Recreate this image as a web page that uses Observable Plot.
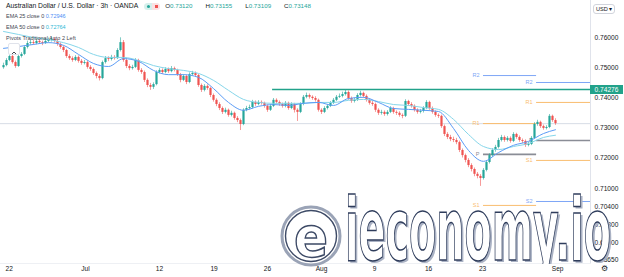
<!DOCTYPE html>
<html><head><meta charset="utf-8">
<script src="https://cdn.jsdelivr.net/npm/d3@7"></script>
<script src="https://cdn.jsdelivr.net/npm/@observablehq/plot@0.6"></script>
<style>
body{margin:0;background:#fff;font-family:"Liberation Sans",Arial,sans-serif;}
#wrap{position:relative;width:624px;height:277px;overflow:hidden;background:#fff;}
.lg{position:absolute;left:6px;white-space:nowrap;color:#131722;line-height:1;}
.l1{top:3px;font-size:6.8px;}
.l2{font-size:5.5px;color:#434651;}
.g{color:#26a69a}
.ohlc{font-size:6.2px;margin-right:13px;}
.pill{display:inline-block;vertical-align:middle;margin:0 5px 0 6px;height:7px;border-radius:4px;overflow:hidden;}
.pill span{display:inline-block;width:8px;height:7px;position:relative;}
.usd{position:absolute;left:593px;top:4px;font-size:5.6px;border:1px solid #d1d4dc;border-radius:3px;padding:1px 2px;color:#131722;}
.lvl{position:absolute;left:590px;width:33px;height:9px;background:#22a28a;color:#fff;font-size:6.6px;line-height:9px;text-align:center;}
.gear{position:absolute;left:601px;top:264px;font-size:8px;color:#131722;font-family:"DejaVu Sans";}
.caret{position:absolute;left:8px;top:43px;width:10px;height:10px;border:1px solid #e0e3eb;border-radius:2px;background:#fff;}
</style></head><body><div id="wrap"></div>
<script>
// ---- data ----
const firstOpen = 0.7500;
const closes = [
0.7507,0.7524,0.7537,0.7517,0.7504,0.7537,0.7544,0.7567,0.7580,0.7583,
0.7580,0.7587,0.7583,0.7580,0.7587,0.7590,0.7593,0.7587,0.7577,0.7567,
0.7557,0.7537,0.7530,0.7524,0.7534,0.7521,0.7514,0.7517,0.7501,0.7494,
0.7481,0.7471,0.7464,0.7517,0.7530,0.7527,0.7534,0.7530,0.7557,0.7583,
0.7524,0.7504,0.7497,0.7501,0.7524,0.7491,0.7484,0.7458,0.7441,0.7435,
0.7444,0.7484,0.7491,0.7484,0.7494,0.7487,0.7497,0.7491,0.7477,0.7458,
0.7471,0.7451,0.7477,0.7481,0.7474,0.7441,0.7425,0.7438,0.7431,0.7408,
0.7392,0.7378,0.7365,0.7352,0.7359,0.7342,0.7349,0.7332,0.7325,0.7312,
0.7359,0.7365,0.7368,0.7385,0.7378,0.7385,0.7382,0.7372,0.7359,0.7372,
0.7392,0.7385,0.7378,0.7372,0.7382,0.7365,0.7378,0.7359,0.7352,0.7378,
0.7402,0.7408,0.7402,0.7398,0.7392,0.7359,0.7352,0.7365,0.7372,0.7382,
0.7392,0.7402,0.7405,0.7411,0.7418,0.7398,0.7388,0.7392,0.7408,0.7415,
0.7405,0.7392,0.7382,0.7378,0.7359,0.7349,0.7352,0.7345,0.7352,0.7365,
0.7352,0.7349,0.7342,0.7339,0.7388,0.7378,0.7372,0.7359,0.7352,0.7355,
0.7365,0.7385,0.7365,0.7352,0.7342,0.7339,0.7305,0.7279,0.7269,0.7262,
0.7259,0.7252,0.7226,0.7209,0.7193,0.7176,0.7163,0.7147,0.7140,0.7133,
0.7160,0.7186,0.7209,0.7226,0.7236,0.7259,0.7269,0.7259,0.7266,0.7256,
0.7279,0.7269,0.7259,0.7256,0.7243,0.7246,0.7266,0.7312,0.7319,0.7305,
0.7299,0.7302,0.7339,0.7325,0.7315];
const highs = [
0.7515,0.7530,0.7545,0.7541,0.7522,0.7542,0.7550,0.7572,0.7588,0.7592,
0.7590,0.7594,0.7593,0.7588,0.7595,0.7598,0.7602,0.7600,0.7592,0.7582,
0.7572,0.7561,0.7543,0.7536,0.7540,0.7539,0.7527,0.7524,0.7522,0.7507,
0.7499,0.7486,0.7477,0.7522,0.7537,0.7536,0.7541,0.7540,0.7563,0.7599,
0.7590,0.7530,0.7510,0.7508,0.7530,0.7528,0.7497,0.7489,0.7463,0.7448,
0.7450,0.7490,0.7497,0.7496,0.7500,0.7499,0.7504,0.7502,0.7495,0.7481,
0.7477,0.7475,0.7483,0.7488,0.7486,0.7478,0.7446,0.7444,0.7443,0.7435,
0.7413,0.7397,0.7384,0.7370,0.7366,0.7363,0.7356,0.7353,0.7338,0.7330,
0.7364,0.7372,0.7376,0.7392,0.7390,0.7391,0.7390,0.7386,0.7377,0.7378,
0.7398,0.7397,0.7390,0.7383,0.7388,0.7386,0.7384,0.7382,0.7364,0.7384,
0.7408,0.7416,0.7413,0.7407,0.7404,0.7396,0.7364,0.7371,0.7378,0.7388,
0.7398,0.7408,0.7413,0.7419,0.7427,0.7423,0.7403,0.7399,0.7414,0.7422,
0.7419,0.7410,0.7397,0.7388,0.7383,0.7364,0.7359,0.7357,0.7358,0.7371,
0.7369,0.7357,0.7354,0.7347,0.7394,0.7392,0.7384,0.7377,0.7364,0.7362,
0.7371,0.7391,0.7389,0.7370,0.7357,0.7347,0.7343,0.7310,0.7285,0.7276,
0.7270,0.7266,0.7257,0.7231,0.7214,0.7199,0.7182,0.7168,0.7153,0.7146,
0.7166,0.7192,0.7215,0.7232,0.7243,0.7266,0.7276,0.7274,0.7272,0.7271,
0.7285,0.7283,0.7274,0.7264,0.7261,0.7253,0.7272,0.7318,0.7326,0.7323,
0.7310,0.7308,0.7345,0.7343,0.7331];
const lows = [
0.7495,0.7503,0.7520,0.7512,0.7498,0.7501,0.7532,0.7540,0.7562,0.7575,
0.7574,0.7576,0.7578,0.7573,0.7577,0.7582,0.7585,0.7582,0.7571,0.7561,
0.7550,0.7531,0.7524,0.7518,0.7520,0.7515,0.7508,0.7509,0.7495,0.7488,
0.7475,0.7463,0.7456,0.7460,0.7512,0.7520,0.7522,0.7525,0.7527,0.7552,
0.7518,0.7497,0.7490,0.7492,0.7497,0.7485,0.7478,0.7451,0.7434,0.7425,
0.7428,0.7440,0.7479,0.7478,0.7480,0.7481,0.7483,0.7486,0.7471,0.7450,
0.7454,0.7444,0.7447,0.7472,0.7468,0.7435,0.7418,0.7420,0.7425,0.7401,
0.7386,0.7371,0.7358,0.7345,0.7347,0.7336,0.7337,0.7326,0.7318,0.7292,
0.7308,0.7354,0.7360,0.7363,0.7372,0.7374,0.7376,0.7366,0.7352,0.7355,
0.7368,0.7379,0.7372,0.7366,0.7367,0.7359,0.7361,0.7350,0.7322,0.7348,
0.7374,0.7397,0.7396,0.7392,0.7386,0.7353,0.7345,0.7348,0.7360,0.7368,
0.7378,0.7388,0.7398,0.7400,0.7406,0.7392,0.7382,0.7383,0.7388,0.7403,
0.7399,0.7386,0.7376,0.7372,0.7352,0.7342,0.7343,0.7339,0.7340,0.7348,
0.7346,0.7342,0.7336,0.7331,0.7335,0.7372,0.7366,0.7353,0.7346,0.7347,
0.7350,0.7361,0.7359,0.7346,0.7336,0.7332,0.7299,0.7272,0.7262,0.7255,
0.7252,0.7245,0.7219,0.7201,0.7185,0.7169,0.7155,0.7139,0.7132,0.7107,
0.7128,0.7155,0.7181,0.7203,0.7220,0.7231,0.7254,0.7253,0.7254,0.7250,
0.7252,0.7263,0.7253,0.7249,0.7236,0.7238,0.7242,0.7262,0.7306,0.7299,
0.7293,0.7294,0.7298,0.7319,0.7309];
// EMA readings at these candle indices
const emaAt = [0,5,10,15,20,25,30,35,40,45,50,55,60,65,70,75,80,85,90,95,100,105,110,115,120,125,130,135,140,145,150,155,160,165,170,175,180,184];
const ema25 = [0.7564,0.7570,0.7577,0.7583,0.7574,0.7544,0.7514,0.7504,0.7530,0.7521,0.7491,0.7477,0.7477,0.7468,0.7431,0.7385,0.7359,0.7372,0.7378,0.7375,0.7382,0.7385,0.7375,0.7398,0.7402,0.7385,0.7365,0.7362,0.7359,0.7355,0.7299,0.7226,0.7190,0.7219,0.7243,0.7256,0.7282,0.72946];
const ema50 = [0.7620,0.7610,0.7600,0.7593,0.7583,0.7567,0.7544,0.7534,0.7534,0.7524,0.7507,0.7497,0.7491,0.7481,0.7458,0.7425,0.7395,0.7385,0.7382,0.7382,0.7382,0.7385,0.7385,0.7392,0.7395,0.7388,0.7378,0.7375,0.7368,0.7362,0.7329,0.7279,0.7239,0.7229,0.7239,0.7249,0.7269,0.72764];
// x-axis labels (candle index where each date falls)
const tickPos = [1.9, 27.3, 52, 70.2, 88, 106, 123.7, 141.7, 159.7, 184.7];
const tickLabels = ["22","Jul","12","19","26","Aug","9","16","23","Sep"];
const yTicks = [0.76,0.75,0.74,0.73,0.72,0.71,0.704,0.698,0.692,0.6865];
// weekly pivots (Traditional, 2 periods)
const pivotNames = ["R2","R1","P","S1","S2"];
const pivotWeekA = [0.7474,0.7315,0.7213,0.7044,null];
const pivotWeekB = [0.7451,0.7385,0.7259,0.7193,0.7057];
const pivotStart = [160, 177.7];
const pivotEnd = [177.7, 195.67];
const levelLine = 0.74276, levelStart = 89.7;
const lastPrice = 0.73148;

// ---- build ----
const candles = closes.map((c,i)=>({i, open: i===0?firstOpen:closes[i-1], close:c, high:highs[i], low:lows[i]}));
const UP="#26a69a", DN="#ef5350";
const col = d => d.close >= d.open ? UP : DN;
const emaRows = emaAt.map((i,k)=>({i, e25:ema25[k], e50:ema50[k]}));
const pivots = [];
[pivotWeekA, pivotWeekB].forEach((arr,p)=>arr.forEach((v,k)=>{ if(v!=null) pivots.push({name:pivotNames[k], v, x1:pivotStart[p], x2:pivotEnd[p]}); }));
const pivColor = n => n==="P" ? "#8a8d96" : (n[1]==="1" ? "#f9bd6f" : "#7ea6f6");
const levels = [{v:levelLine, x1:levelStart, x2:195.67}];

const chart = Plot.plot({
  width:624, height:277, marginLeft:0, marginRight:34, marginTop:0, marginBottom:14,
  style:{fontFamily:"Liberation Sans, Arial, sans-serif", fontSize:"6.6px", color:"#131722", background:"#fff"},
  x:{domain:[-1,195.67], axis:null},
  y:{domain:[0.68517,0.77225], axis:null},
  marks:[
    Plot.ruleY([lastPrice], {stroke:"#cdd3df", strokeWidth:0.8}),
    Plot.ruleY(pivots, {y:"v", x1:"x1", x2:"x2", stroke:d=>pivColor(d.name), strokeWidth:d=>d.name==="P"?1.6:1}),
    Plot.text(pivots, {y:"v", x:"x1", text:"name", dx:-4, textAnchor:"end", fill:d=>pivColor(d.name), fontSize:5.5}),
    Plot.ruleY(levels, {y:"v", x1:"x1", x2:"x2", stroke:"#22a28a", strokeWidth:1.4}),
    Plot.ruleX(candles, {x:"i", y1:"low", y2:"high", stroke:col, strokeWidth:0.9, strokeOpacity:0.65}),
    Plot.ruleX(candles, {x:"i", y1:"open", y2:"close", stroke:col, strokeWidth:2.2}),
    Plot.line(emaRows, {x:"i", y:"e50", stroke:"#86d6ea", strokeWidth:1, curve:"monotone-x"}),
    Plot.line(emaRows, {x:"i", y:"e25", stroke:"#5b9cf6", strokeWidth:1, curve:"monotone-x"}),
    Plot.axisX({ticks:tickPos, tickFormat:d=>tickLabels[tickPos.indexOf(d)], tickSize:0, tickPadding:3, fontSize:6.6}),
    Plot.axisY({anchor:"right", ticks:yTicks, tickFormat:d=>d.toFixed(5), tickSize:0, tickPadding:4, fontSize:6.6}),
    Plot.frame({anchor:"right", stroke:"#e0e3eb"}),
    Plot.frame({anchor:"bottom", stroke:"#eef0f4"})
  ]
});
const wrap = document.getElementById("wrap");
wrap.appendChild(chart);
chart.style.position="absolute"; chart.style.left="0"; chart.style.top="0";

const yLvl = chart.scale("y").apply(levelLine);
wrap.insertAdjacentHTML("beforeend", `
<div class="lg l1">Australian Dollar / U.S. Dollar · 3h · OANDA<span class="pill"><span style="background:#d6f0ec"><i style="position:absolute;left:2.5px;top:2px;width:3px;height:3px;border-radius:2px;background:#26a69a"></i></span><span style="background:#fbe1e3"><i style="position:absolute;left:2.5px;top:2px;width:3px;height:3px;background:#ef5350"></i></span></span><span class="ohlc">O<span class="g">0.73120</span></span><span class="ohlc">H<span class="g">0.73155</span></span><span class="ohlc">L<span class="g">0.73109</span></span><span class="ohlc">C<span class="g">0.73148</span></span></div>
<div class="lg l2" style="top:14px">EMA 25 close 0 <span style="color:#4d8ef5">0.72946</span></div>
<div class="lg l2" style="top:25px">EMA 50 close 0 <span style="color:#2fb8d6">0.72764</span></div>
<div class="lg l2" style="top:36px">Pivots Traditional Auto 2 Left</div>
<div class="caret"><svg width="10" height="10"><polyline points="3,6 5,4 7,6" fill="none" stroke="#131722" stroke-width="0.8"/></svg></div>
<div class="usd">USD ▾</div>
<div class="lvl" style="top:${yLvl-4.5}px">0.74276</div>
<div class="gear">⚙</div>
<svg width="624" height="277" style="position:absolute;left:0;top:0;pointer-events:none">
  <defs><clipPath id="wmclip"><rect x="0" y="0" width="624" height="264"/></clipPath></defs>
  <circle cx="311" cy="236" r="29" fill="#fff" stroke="#9aa3b6" stroke-width="3"/>
  <circle cx="311" cy="236" r="25.5" fill="none" stroke="#3d4a66" stroke-width="1.4"/>
  <text x="311" y="256" text-anchor="middle" font-family="DejaVu Sans" font-weight="bold" font-size="56" fill="#fff" stroke="#3d4a66" stroke-width="1.5" textLength="34" lengthAdjust="spacingAndGlyphs">e</text>
  <g clip-path="url(#wmclip)">
  <text x="347" y="262" font-family="DejaVu Sans" font-weight="bold" font-size="88" fill="#aab2c4" textLength="266" lengthAdjust="spacingAndGlyphs">ieconomy.io</text>
  <text x="345" y="260" font-family="DejaVu Sans" font-weight="bold" font-size="88" fill="#fff" stroke="#2f3d5c" stroke-width="1.5" textLength="266" lengthAdjust="spacingAndGlyphs">ieconomy.io</text>
  </g>
</svg>`);
</script></body></html>
